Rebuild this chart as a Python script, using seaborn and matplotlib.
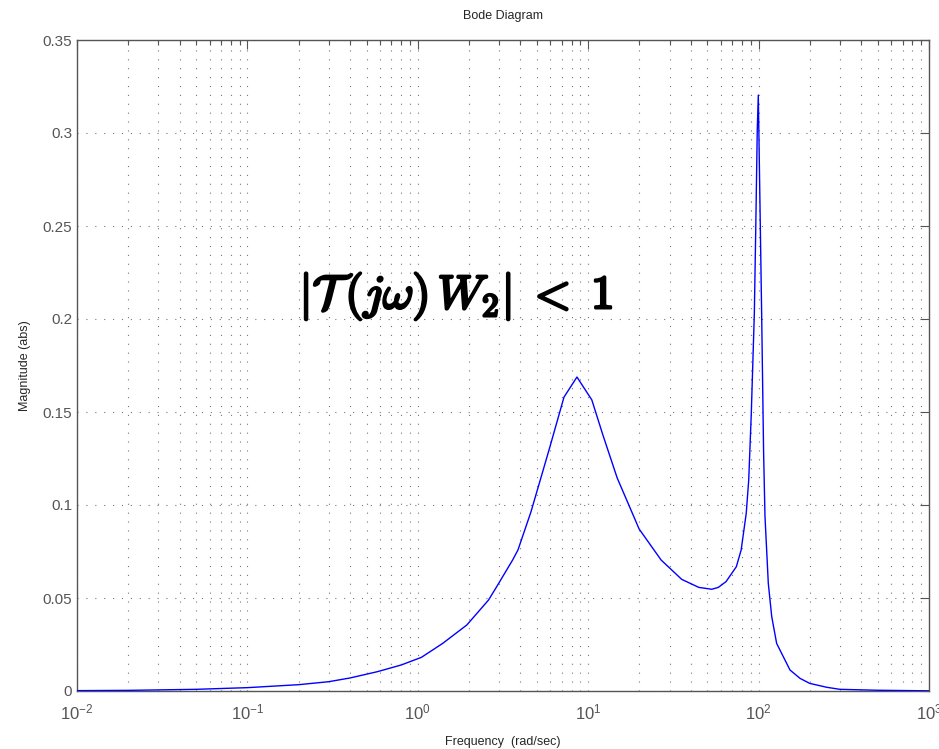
import numpy as np
import pandas as pd
import matplotlib
matplotlib.use("Agg")
import matplotlib.pyplot as plt
import matplotlib.ticker as mticker
import matplotlib.patheffects as pe
import seaborn as sns

freq = [0.01, 0.02, 0.05, 0.1, 0.2, 0.3, 0.4, 0.58, 0.8, 1.05, 1.4, 1.94, 2.6, 2.9,
        3.6, 3.87, 4.61, 5.89, 7.21, 8.59, 10.5, 12.2, 14.8, 19.9, 26.8, 35.4, 44.6,
        53.1, 58, 64.4, 74, 79, 84.6, 87.5, 90.6, 94.4, 96.2, 98.2, 99.6, 104.2, 107,
        109, 114, 119.4, 127.6, 139.7, 152.8, 175, 199.5, 251, 300, 500, 1000]
mag = [0.0002, 0.00035, 0.0009, 0.0018, 0.0034, 0.005, 0.007, 0.0104, 0.014, 0.0181,
       0.0256, 0.0355, 0.0489, 0.056, 0.0704, 0.0758, 0.0962, 0.1296, 0.158, 0.1688,
       0.1565, 0.1376, 0.1145, 0.0871, 0.0704, 0.060, 0.0557, 0.0547, 0.0557, 0.0588,
       0.0668, 0.0758, 0.0955, 0.1134, 0.1493, 0.203, 0.2478, 0.3016, 0.3204, 0.203,
       0.128, 0.094, 0.0579, 0.040, 0.0256, 0.0184, 0.0113, 0.0068, 0.0041, 0.002,
       0.0009, 0.0004, 0.0001]
yticks = [0, 0.05, 0.1, 0.15, 0.2, 0.25, 0.3, 0.35]
ytick_labels = ["0", "0.05", "0.1", "0.15", "0.2", "0.25", "0.3", "0.35"]
title = "Bode Diagram"
xlabel = "Frequency  (rad/sec)"
ylabel = "Magnitude (abs)"
annotation = r"$|\mathcal{T}\,(j\omega)\,W_{2}| \; < \; 1$"

sns.set_style("white")
plt.rcParams["font.family"] = ["Liberation Sans", "DejaVu Sans"]

df = pd.DataFrame({"freq": freq, "mag": mag})

fig = plt.figure(figsize=(9.39, 7.49), dpi=100)
ax = fig.add_axes([77 / 939, (749 - 691) / 749, (929 - 77) / 939, (691 - 40) / 749])

sns.lineplot(data=df, x="freq", y="mag", ax=ax, estimator=None, sort=False,
             color="#0000ff", linewidth=1.0, zorder=3)

ax.set_xscale("log")
ax.set_xlim(1e-2, 1e3)
ax.set_ylim(0, 0.35)

gray = "#555555"
ax.set_yticks(yticks)
ax.set_yticklabels(ytick_labels)
ax.xaxis.set_major_locator(mticker.LogLocator(base=10, numticks=10))
ax.xaxis.set_minor_locator(mticker.LogLocator(base=10, subs=np.arange(2, 10), numticks=20))
ax.xaxis.set_minor_formatter(mticker.NullFormatter())
ax.xaxis.set_major_formatter(mticker.FuncFormatter(
    lambda v, p: r"$\mathregular{10^{%d}}$" % int(round(np.log10(v)))))

ax.tick_params(axis="both", which="both", direction="in", top=True, right=True,
               colors=gray, labelcolor=gray, labelsize=11)
ax.tick_params(axis="both", which="major", length=6.5, width=0.8)
ax.tick_params(axis="x", which="minor", length=3.5, width=0.8)
ax.tick_params(axis="x", which="major", pad=8, labelsize=12)

for s in ax.spines.values():
    s.set_color(gray)
    s.set_linewidth(1.0)

ax.grid(True, which="major", axis="both", color="#777777", linestyle=(0, (1, 7)), linewidth=0.8)
ax.grid(True, which="minor", axis="x", color="#777777", linestyle=(0, (1, 7)), linewidth=0.8)

ax.set_title(title, fontsize=9, pad=15)
ax.set_xlabel(xlabel, fontsize=9, labelpad=10)
ax.set_ylabel(ylabel, fontsize=9, labelpad=8)

ax.text(1.68, 0.212, annotation, fontsize=34, math_fontfamily="cm",
        ha="center", va="center", color="black", zorder=4,
        path_effects=[pe.withStroke(linewidth=1.9, foreground="black")])

fig.savefig("out.png", dpi=100)
